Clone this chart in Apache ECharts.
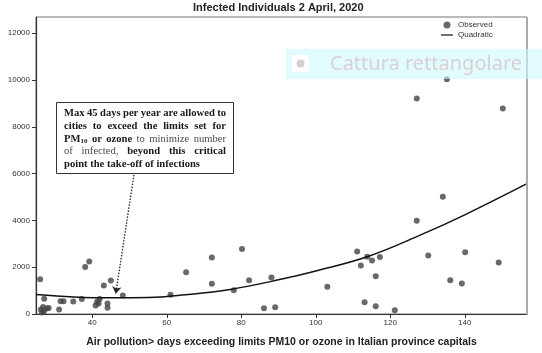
<!DOCTYPE html>
<html><head><meta charset="utf-8">
<script src="https://cdn.jsdelivr.net/npm/echarts@6/dist/echarts.min.js"></script>
<style>html,body{margin:0;padding:0;background:#fff}#c{width:542px;height:353px}</style>
</head><body><div id="c"></div>
<script>
const titleText = 'Infected Individuals 2 April, 2020';
const xAxisName = 'Air pollution> days exceeding limits PM10 or ozone in Italian province capitals';
const xTicks = [40, 60, 80, 100, 120, 140];
const yTicks = [0, 2000, 4000, 6000, 8000, 10000, 12000];
const legendNames = ['Observed', 'Quadratic'];

// Observed cities (days exceeding limits, infected individuals)
const obsX = [26.0, 27.1, 26.2, 26.8, 27.0, 27.8, 28.3, 26.5,
  31.1, 31.5, 32.3, 34.9, 37.2, 38.1, 39.2, 40.9, 41.3, 42.0, 41.7, 43.1, 45.0, 44.1, 44.1, 48.2,
  61.0, 65.2, 72.1, 72.1, 78.0, 80.2, 82.1, 86.1, 88.1, 89.1,
  103.1, 111.1, 112.1, 113.8, 115.1, 117.2, 116.1, 113.1, 116.1, 121.2,
  135.2, 127.1, 150.2, 134.1, 127.1, 130.2, 140.1, 149.1, 136.1, 139.2];
const obsY = [1490, 655, 190, 300, 110, 235, 260, 60,
  192, 540, 540, 530, 640, 2010, 2240, 360, 520, 640, 450, 1216, 1430, 450, 264, 790,
  820, 1784, 2410, 1290, 1016, 2780, 1442, 247, 1557, 290,
  1160, 2667, 2070, 2450, 2283, 2440, 1613, 504, 333, 162,
  10036, 9208, 8782, 5014, 3990, 2496, 2637, 2197, 1442, 1301];

// Quadratic fit curve
const fitX = [24.9, 35, 45, 55, 65, 77, 90, 100, 114, 128, 140, 156.7];
const fitY = [830, 730, 690, 700, 820, 1050, 1460, 1840, 2460, 3370, 4240, 5570];

// Annotation text
const noteLines = [
  [[['Max', 'b']], [['45', 'b']], [['days', 'b']], [['per', 'b']], [['year', 'b']], [['are', 'b']], [['allowed', 'b']], [['to', 'b']]],
  [[['cities', 'b']], [['to', 'b']], [['exceed', 'b']], [['the', 'b']], [['limits', 'b']], [['set', 'b']], [['for', 'b']]],
  [[['PM', 'b'], ['10', 's']], [['or', 'b']], [['ozone', 'b']], [['to', 'n']], [['minimize', 'n']], [['number', 'n']]],
  [[['of', 'n']], [['infected,', 'n']], [['beyond', 'b']], [['this', 'b']], [['critical', 'b']]],
  [[['point', 'b']], [['the', 'b']], [['take-off', 'b']], [['of', 'b']], [['infections', 'b']]]
];

const chart = echarts.init(document.getElementById('c'));

const fonts = {
  b: 'bold 10.6px "Liberation Serif"',
  n: '10.6px "Liberation Serif"',
  s: 'bold 7px "Liberation Serif"'
};
const fills = { b: '#1a1a1a', n: '#4a4a4a', s: '#1a1a1a' };
const ctx = document.createElement('canvas').getContext('2d');
function tw(t, k) { ctx.font = fonts[k]; return ctx.measureText(t).width; }

const noteEls = [];
const textLeft = 64, textRight = 226, firstY = 113.5, lineH = 12.7;
noteLines.forEach((line, li) => {
  const widths = line.map(word => word.reduce((s, tk) => s + tw(tk[0], tk[1]), 0));
  const total = widths.reduce((a, b) => a + b, 0);
  const last = li === noteLines.length - 1;
  const gap = last ? tw(' ', 'b') : (textRight - textLeft - total) / (line.length - 1);
  let x = textLeft;
  const y = firstY + li * lineH;
  line.forEach((word, wi) => {
    let cx = x;
    word.forEach(tk => {
      noteEls.push({
        type: 'text', x: cx, y: tk[1] === 's' ? y + 2 : y, z: 20,
        style: { text: tk[0], font: fonts[tk[1]], fill: fills[tk[1]], align: 'left', verticalAlign: 'middle' }
      });
      cx += tw(tk[0], tk[1]);
    });
    x += widths[wi] + gap;
  });
});

const axisFont = 'Liberation Sans';
const option = {
  animation: false,
  title: {
    text: titleText, left: 193, top: 2, padding: 0,
    textStyle: { fontFamily: axisFont, fontSize: 11, fontWeight: 'bold', color: '#222' }
  },
  legend: {
    orient: 'vertical', left: 441, top: 21, itemWidth: 12, itemHeight: 7, itemGap: 2, padding: 0,
    textStyle: { fontFamily: axisFont, fontSize: 8, color: '#333' },
    data: [
      { name: legendNames[0], icon: 'circle' },
      { name: legendNames[1], icon: 'path://M0,0L20,0L20,2L0,2Z' }
    ]
  },
  grid: { left: 36, right: 15, top: 17, bottom: 38.5, show: true, borderColor: '#777', borderWidth: 1 },
  xAxis: {
    type: 'value', min: 24.9, max: 156.7,
    name: xAxisName, nameLocation: 'middle', nameGap: 23,
    nameTextStyle: { fontFamily: axisFont, fontSize: 10.5, fontWeight: 'bold', color: '#222' },
    axisLine: { show: true, onZero: false, lineStyle: { color: '#333', width: 1.2 } },
    axisTick: { show: true, customValues: xTicks, length: 4, lineStyle: { color: '#333' } },
    axisLabel: { customValues: xTicks, fontFamily: axisFont, fontSize: 8, color: '#333', margin: 5 },
    splitLine: { show: false }
  },
  yAxis: {
    type: 'value', min: 0, max: 12695,
    axisLine: { show: true, onZero: false, lineStyle: { color: '#333', width: 1.2 } },
    axisTick: { show: true, customValues: yTicks, length: 4, lineStyle: { color: '#333' } },
    axisLabel: { customValues: yTicks, formatter: v => String(v), fontFamily: axisFont, fontSize: 8, color: '#333', margin: 6 },
    splitLine: { show: false }
  },
  series: [
    {
      name: legendNames[0], type: 'scatter', symbolSize: 6,
      itemStyle: { color: '#444' },
      data: obsX.map((x, i) => [x, obsY[i]])
    },
    {
      name: legendNames[1], type: 'line', smooth: 0.4, showSymbol: false,
      lineStyle: { color: '#111', width: 1.5 }, itemStyle: { color: '#111' },
      data: fitX.map((x, i) => [x, fitY[i]]),
      markLine: {
        silent: true, symbol: ['none', 'arrow'], symbolSize: 7,
        itemStyle: { color: '#222' },
        lineStyle: { type: [1.5, 1.5], color: '#222', width: 1.3 },
        label: { show: false },
        data: [[{ coord: [51.2, 5950] }, { coord: [46.3, 870] }]]
      }
    }
  ],
  graphic: [
    { type: 'line', z: 5, shape: { x1: 527, y1: 17, x2: 527, y2: 314.5 },
      style: { stroke: '#aaa', lineWidth: 2 } },
    { type: 'rect', z: 10, shape: { x: 56.5, y: 102.5, width: 177, height: 71 },
      style: { fill: '#fff', stroke: '#333', lineWidth: 1 } },
    ...noteEls,
    { type: 'rect', z: 30, shape: { x: 286, y: 49, width: 256, height: 30 },
      style: { fill: 'rgba(205,248,255,0.6)' } },
    { type: 'rect', z: 31, shape: { x: 292, y: 55, width: 17, height: 17, r: 3 },
      style: { fill: '#fff' } },
    { type: 'circle', z: 32, shape: { cx: 300.5, cy: 63.5, r: 4 },
      style: { fill: '#d0d0d0' } },
    { type: 'text', z: 32, x: 330, y: 64,
      style: { text: 'Cattura rettangolare', font: '20px "Noto Sans"', fill: '#d8d2d2', align: 'left', verticalAlign: 'middle' } }
  ]
};
chart.setOption(option);
</script>
</body></html>
